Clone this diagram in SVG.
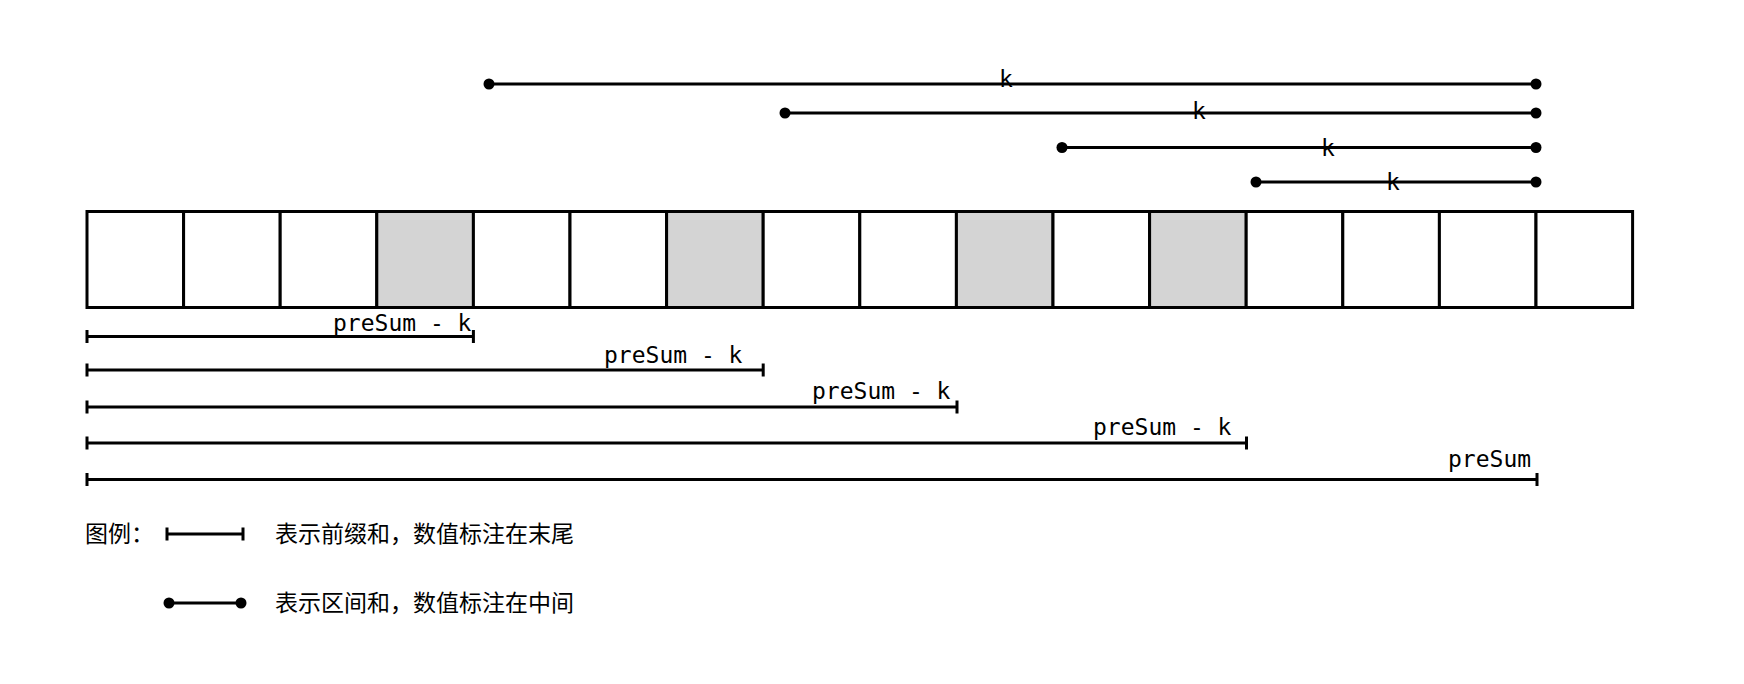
<svg xmlns="http://www.w3.org/2000/svg" width="1744" height="684" viewBox="0 0 1744 684">
<style>
.cell{fill:#fff;stroke:#000;stroke-width:3}
.gray{fill:#d4d4d4}
.ln{stroke:#000;stroke-width:3;fill:none}
.dot{fill:#000}
.mono{font-family:"DejaVu Sans Mono","Liberation Mono",monospace;font-size:23px;fill:#000}
.cjk{font-family:"Noto Sans CJK SC","Noto Sans",sans-serif;font-size:23px;fill:#000}
</style>
<rect width="1744" height="684" fill="#fff"/>
<g id="array">
<rect class="cell" x="87" y="211.5" width="96.6" height="96"/>
<rect class="cell" x="183.6" y="211.5" width="96.6" height="96"/>
<rect class="cell" x="280.2" y="211.5" width="96.6" height="96"/>
<rect class="cell gray" x="376.8" y="211.5" width="96.6" height="96"/>
<rect class="cell" x="473.4" y="211.5" width="96.6" height="96"/>
<rect class="cell" x="570" y="211.5" width="96.6" height="96"/>
<rect class="cell gray" x="666.6" y="211.5" width="96.6" height="96"/>
<rect class="cell" x="763.2" y="211.5" width="96.6" height="96"/>
<rect class="cell" x="859.8" y="211.5" width="96.6" height="96"/>
<rect class="cell gray" x="956.4" y="211.5" width="96.6" height="96"/>
<rect class="cell" x="1053" y="211.5" width="96.6" height="96"/>
<rect class="cell gray" x="1149.6" y="211.5" width="96.6" height="96"/>
<rect class="cell" x="1246.2" y="211.5" width="96.6" height="96"/>
<rect class="cell" x="1342.8" y="211.5" width="96.6" height="96"/>
<rect class="cell" x="1439.4" y="211.5" width="96.6" height="96"/>
<rect class="cell" x="1536" y="211.5" width="96.6" height="96"/>
</g>
<g id="connectors">
<g id="intervals">
<line class="ln" x1="489" y1="84" x2="1536" y2="84"/>
<circle class="dot" cx="489" cy="84" r="5.5"/><circle class="dot" cx="1536" cy="84" r="5.5"/>
<line class="ln" x1="785" y1="113" x2="1536" y2="113"/>
<circle class="dot" cx="785" cy="113" r="5.5"/><circle class="dot" cx="1536" cy="113" r="5.5"/>
<line class="ln" x1="1062" y1="147.5" x2="1536" y2="147.5"/>
<circle class="dot" cx="1062" cy="147.5" r="5.5"/><circle class="dot" cx="1536" cy="147.5" r="5.5"/>
<line class="ln" x1="1256" y1="182" x2="1536" y2="182"/>
<circle class="dot" cx="1256" cy="182" r="5.5"/><circle class="dot" cx="1536" cy="182" r="5.5"/>
</g>
<g id="prefixes">
<path class="ln" d="M87 336.5H473.4M87 330v13M473.4 330v13"/>
<path class="ln" d="M87 370H763.2M87 363.5v13M763.2 363.5v13"/>
<path class="ln" d="M87 407H957M87 400.5v13M957 400.5v13"/>
<path class="ln" d="M87 443H1246.5M87 436.5v13M1246.5 436.5v13"/>
<path class="ln" d="M87 479.5H1537M87 473v13M1537 473v13"/>
</g>
</g>
<g id="labels">
<text class="mono" x="1006" y="87" text-anchor="middle">k</text>
<text class="mono" x="1199" y="118.5" text-anchor="middle">k</text>
<text class="mono" x="1328" y="155.5" text-anchor="middle">k</text>
<text class="mono" x="1393" y="190" text-anchor="middle">k</text>
<text class="mono" x="333" y="331">preSum - k</text>
<text class="mono" x="604" y="363">preSum - k</text>
<text class="mono" x="812" y="399">preSum - k</text>
<text class="mono" x="1093" y="435">preSum - k</text>
<text class="mono" x="1448" y="467">preSum</text>
</g>
<g id="legend">
<text class="cjk" x="85" y="542">图例：</text>
<path class="ln" d="M167 534H243M167 527.5v13M243 527.5v13"/>
<text class="cjk" x="275" y="542">表示前缀和，数值标注在末尾</text>
<line class="ln" x1="169" y1="603" x2="241" y2="603"/>
<circle class="dot" cx="169" cy="603" r="5.5"/><circle class="dot" cx="241" cy="603" r="5.5"/>
<text class="cjk" x="275" y="611">表示区间和，数值标注在中间</text>
</g>
</svg>
